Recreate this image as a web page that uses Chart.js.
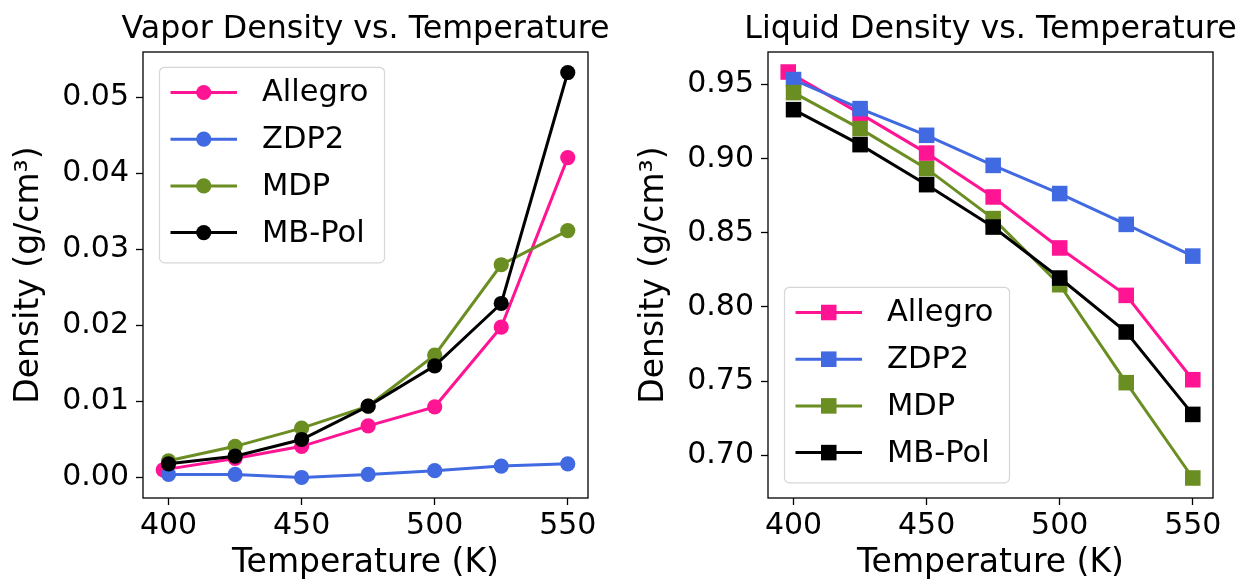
<!DOCTYPE html>
<html><head><meta charset="utf-8">
<script src="https://cdn.jsdelivr.net/npm/chart.js@4/dist/chart.umd.min.js"></script>
<style>
html,body{margin:0;padding:0;background:#fff;}
#wrap{position:relative;width:1240px;height:584px;overflow:hidden;background:#fff;}
canvas{position:absolute;top:0;}
</style></head><body>
<div id="wrap">
<canvas id="vapor" width="620" height="584" style="left:0"></canvas>
<canvas id="liquid" width="620" height="584" style="left:620px"></canvas>
</div>
<script>
// ---- data ----
const seriesNames = ['Allegro', 'ZDP2', 'MDP', 'MB-Pol'];
const seriesColors = ['#FF1493', '#4169E1', '#6B8E23', '#000000'];
const tempsAllegro = [398, 425, 450, 475, 500, 525, 550];
const temps = [400, 425, 450, 475, 500, 525, 550];

const vaporAllegro = [0.0010, 0.0025, 0.0041, 0.0068, 0.0093, 0.0198, 0.0421];
const vaporZDP2    = [0.0004, 0.0004, 0.0000, 0.0004, 0.0009, 0.0015, 0.0018];
const vaporMDP     = [0.0022, 0.0041, 0.0065, 0.0094, 0.0161, 0.0280, 0.0325];
const vaporMBPol   = [0.0018, 0.0028, 0.0050, 0.0094, 0.0147, 0.0229, 0.0533];

const liquidAllegro = [0.9585, 0.9304, 0.9038, 0.8742, 0.8398, 0.8078, 0.7509];
const liquidZDP2    = [0.9534, 0.9338, 0.9158, 0.8955, 0.8765, 0.8557, 0.8343];
const liquidMDP     = [0.9446, 0.9203, 0.8933, 0.8596, 0.8150, 0.7489, 0.6846];
const liquidMBPol   = [0.9331, 0.9095, 0.8825, 0.8539, 0.8195, 0.7831, 0.7275];

const xTicks = [400, 450, 500, 550];
const vaporTicks = [0.00, 0.01, 0.02, 0.03, 0.04, 0.05];
const liquidTicks = [0.70, 0.75, 0.80, 0.85, 0.90, 0.95];

const vaporTitle = 'Vapor Density vs. Temperature';
const liquidTitle = 'Liquid Density vs. Temperature';
const xLabel = 'Temperature (K)';
const yLabel = 'Density (g/cm³)';

// ---- rendering ----
Chart.defaults.font.family = '"DejaVu Sans", sans-serif';
Chart.defaults.color = '#000';

const framePlugin = {
  id: 'frame',
  afterDatasetsDraw(chart) {
    const {ctx, chartArea: a} = chart;
    ctx.save();
    ctx.strokeStyle = '#000';
    ctx.lineWidth = 1.3;
    ctx.strokeRect(a.left, a.top, a.right - a.left, a.bottom - a.top);
    ctx.restore();
  }
};

// axes title centred over the plot area (matplotlib-style)
const axesTitle = {
  id: 'axesTitle',
  afterDraw(chart, args, o) {
    if (!o || !o.text) return;
    const {ctx, chartArea: a} = chart;
    ctx.save();
    ctx.font = '31.7px "DejaVu Sans"';
    ctx.fillStyle = '#000';
    ctx.textAlign = 'center';
    ctx.textBaseline = 'alphabetic';
    ctx.fillText(o.text, (a.left + a.right) / 2, o.baseline);
    ctx.restore();
  }
};

const boxLegend = {
  id: 'boxLegend',
  afterDraw(chart, args, o) {
    if (!o || !o.show) return;
    const {ctx, chartArea: a} = chart;
    const x0 = a.left + o.dx;
    const y0 = o.anchor === 'top' ? a.top + o.dy : a.bottom - o.dy - o.h;
    ctx.save();
    ctx.beginPath();
    ctx.roundRect(x0, y0, o.w, o.h, 5);
    ctx.fillStyle = 'rgba(255,255,255,0.8)';
    ctx.fill();
    ctx.strokeStyle = '#d6d6d6';
    ctx.lineWidth = 1.2;
    ctx.stroke();
    ctx.font = '30.5px "DejaVu Sans"';
    ctx.textBaseline = 'middle';
    ctx.textAlign = 'left';
    chart.data.datasets.forEach((ds, i) => {
      const cy = y0 + o.firstRow + i * o.rowGap;
      ctx.strokeStyle = ds.borderColor;
      ctx.lineWidth = ds.borderWidth;
      ctx.beginPath();
      ctx.moveTo(x0 + o.lineX0, cy);
      ctx.lineTo(x0 + o.lineX1, cy);
      ctx.stroke();
      const mx = x0 + (o.lineX0 + o.lineX1) / 2;
      ctx.fillStyle = ds.backgroundColor;
      ctx.beginPath();
      if (ds.pointStyle === 'rect') {
        const s = ds.pointRadius * Math.SQRT1_2;
        ctx.rect(mx - s, cy - s, 2 * s, 2 * s);
      } else {
        ctx.arc(mx, cy, ds.pointRadius, 0, Math.PI * 2);
      }
      ctx.fill();
      ctx.fillStyle = '#000';
      ctx.fillText(ds.label, x0 + o.textX, cy + 1);
    });
    ctx.restore();
  }
};

function makeDatasets(valueLists, pointStyle, radius) {
  return valueLists.map((vals, i) => {
    const xs = i === 0 ? tempsAllegro : temps;
    return {
      label: seriesNames[i],
      data: vals.map((v, j) => ({x: xs[j], y: v})),
      borderColor: seriesColors[i],
      backgroundColor: seriesColors[i],
      borderWidth: 3,
      pointStyle: pointStyle,
      pointRadius: radius,
      pointHoverRadius: radius,
      pointBorderWidth: 0,
      tension: 0,
      order: 4 - i
    };
  });
}

function makeChart(id, cfg) {
  return new Chart(document.getElementById(id), {
    type: 'line',
    data: {datasets: makeDatasets(cfg.values, cfg.pointStyle, cfg.radius)},
    plugins: [framePlugin, axesTitle, boxLegend],
    options: {
      responsive: false,
      animation: false,
      devicePixelRatio: 1,
      events: [],
      layout: {padding: {left: 0, right: cfg.padRight, top: 52, bottom: 0}},
      plugins: {
        legend: {display: false},
        tooltip: {enabled: false},
        title: {display: false},
        axesTitle: {text: cfg.title, baseline: 38},
        boxLegend: Object.assign({show: true, dx: 16.5, w: 225, h: 195.5,
          firstRow: 25.2, rowGap: 46.7, lineX0: 11, lineX1: 77.5, textX: 102.5}, cfg.legend)
      },
      scales: {
        x: {
          type: 'linear', min: 390.4, max: 557.6,
          afterBuildTicks: s => { s.ticks = xTicks.map(v => ({value: v})); },
          ticks: {font: {size: 30}, color: '#000', padding: 3, maxRotation: 0, autoSkip: false,
                  callback: v => String(v)},
          grid: {display: true, drawOnChartArea: false, drawTicks: true, tickLength: 7,
                 tickColor: '#000', tickWidth: 1.3},
          border: {display: false},
          title: {display: true, text: xLabel, font: {size: 33}, color: '#000',
                  padding: {top: 0, bottom: 0.6}},
          afterFit: s => { s.height = 86; s.paddingLeft = 0; s.paddingRight = 0; }
        },
        y: {
          type: 'linear', min: cfg.yMin, max: cfg.yMax,
          afterBuildTicks: s => { s.ticks = cfg.yTicks.map(v => ({value: v})); },
          ticks: {font: {size: 30}, color: '#000', padding: 7, autoSkip: false,
                  callback: v => Number(v).toFixed(2)},
          grid: {display: true, drawOnChartArea: false, drawTicks: true, tickLength: 7,
                 tickColor: '#000', tickWidth: 1.3},
          border: {display: false},
          title: {display: true, text: yLabel, font: {size: 33}, color: '#000',
                  padding: {top: cfg.yTitlePad, bottom: 0}},
          afterFit: s => { s.width = cfg.yWidth; s.paddingTop = 0; s.paddingBottom = 0; }
        }
      }
    }
  });
}

makeChart('vapor', {
  title: vaporTitle,
  values: [vaporAllegro, vaporZDP2, vaporMDP, vaporMBPol],
  pointStyle: 'circle', radius: 7.6,
  yMin: -0.0027, yMax: 0.0560, yTicks: vaporTicks,
  yWidth: 143, padRight: 32, yTitlePad: 9.5,
  legend: {anchor: 'top', dy: 15.3}
});

makeChart('liquid', {
  title: liquidTitle,
  values: [liquidAllegro, liquidZDP2, liquidMDP, liquidMBPol],
  pointStyle: 'rect', radius: 11,
  yMin: 0.6711, yMax: 0.9720, yTicks: liquidTicks,
  yWidth: 148, padRight: 27, yTitlePad: 14.5,
  legend: {anchor: 'bottom', dy: 15.2}
});
</script>
</body></html>
